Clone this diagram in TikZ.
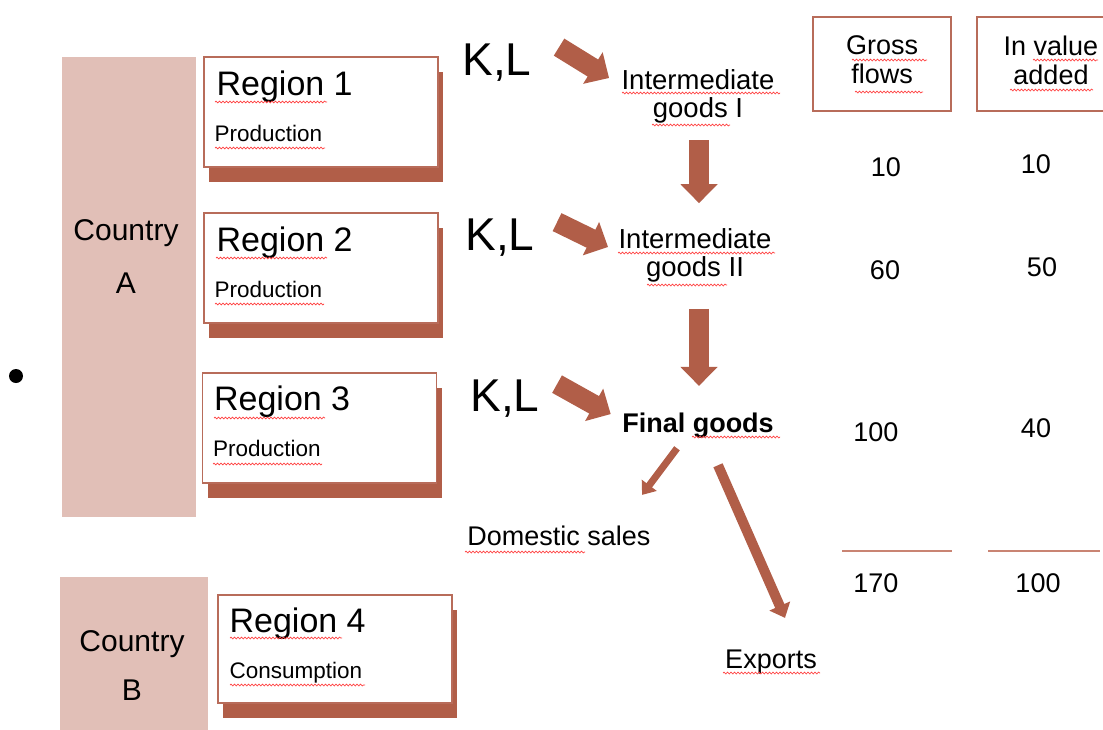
\documentclass[tikz,border=0pt]{standalone}
\usepackage{fontspec}
\setmainfont{Liberation Sans}
\usetikzlibrary{positioning,arrows.meta,shadows,decorations.pathmorphing}
\definecolor{rustbrown}{HTML}{B15E48}
\definecolor{boxedge}{HTML}{B86C5A}
\definecolor{countrypink}{HTML}{E1BFB7}
\definecolor{rulered}{HTML}{C98473}

\begin{document}
\begin{tikzpicture}[x=1pt, y=-1pt,
    country/.style={rectangle, fill=countrypink, minimum width=134pt, minimum height=460pt},
    countrytext/.style={align=center, font=\fontsize{30}{53}\selectfont},
    region/.style={rectangle, draw=boxedge, line width=1.2pt, fill=white,
                   minimum width=234pt, minimum height=110pt,
                   drop shadow={shadow xshift=5pt, shadow yshift=-15pt, fill=rustbrown, opacity=1}},
    regname/.style={anchor=base west, inner sep=0pt, font=\fontsize{34}{40}\selectfont},
    regrole/.style={anchor=base west, inner sep=0pt, font=\fontsize{22.5}{26}\selectfont},
    factors/.style={anchor=base, font=\fontsize{46}{50}\selectfont},
    goods/.style={align=center, font=\fontsize{27.5}{28}\selectfont},
    outlet/.style={anchor=base, font=\fontsize{27}{30}\selectfont},
    header/.style={rectangle, draw=boxedge, line width=1.5pt, minimum width=138pt,
                   minimum height=94pt, text depth=8pt, align=center,
                   font=\fontsize{27}{29}\selectfont},
    amount/.style={anchor=base, font=\fontsize{27}{30}\selectfont},
    fat/.style={draw=rustbrown, line width=20pt, -{Triangle[width=36pt,length=19pt]}},
    outflow/.style={draw=rustbrown, line width=7pt, -{Triangle[width=18pt,length=12pt]}},
    spell/.style={draw=red!75, line width=0.7pt, decorate,
                  decoration={snake, amplitude=0.9pt, segment length=3.5pt}}
  ]
    \useasboundingbox (0,0) rectangle (1103,729);

    % Countries
    \node[country] (ca) at (129,287) {};
    \node[countrytext] (catext) at (126,256.5) {Country\\A};
    \node[country, minimum width=148pt, minimum height=160pt] (cb) at (134,657) {};
    \node[countrytext, font=\fontsize{30}{49}\selectfont] (cbtext) at (132,665.5) {Country\\B};
    \node[circle, fill=black, inner sep=0pt, minimum size=14pt] (dot) at (16,376) {};

    % Regions
    \node[region] (r1) at (321,112) {};
    \node[regname] at ([shift={(13,39)}]r1.north west) {Region 1};
    \node[regrole] at ([shift={(11,85)}]r1.north west) {Production};

    \node[region] (r2) at (321,268) {};
    \node[regname] at ([shift={(13,39)}]r2.north west) {Region 2};
    \node[regrole] at ([shift={(11,85)}]r2.north west) {Production};

    \node[region] (r3) at (319.5,428) {};
    \node[regname] at ([shift={(12,38)}]r3.north west) {Region 3};
    \node[regrole] at ([shift={(11,84)}]r3.north west) {Production};

    \node[region, minimum height=108pt] (r4) at (335,649) {};
    \node[regname] at ([shift={(12,38)}]r4.north west) {Region 4};
    \node[regrole] at ([shift={(12,84)}]r4.north west) {Consumption};

    % Production chain
    \node[factors] (kl1) at (497,75) {K,L};
    \node[factors] (kl2) at (500,250) {K,L};
    \node[factors] (kl3) at (505,411) {K,L};

    \node[goods] (ig1) at (698,96) {Intermediate\\goods I};
    \node[goods] (ig2) at (695,255) {Intermediate\\goods II};
    \node[goods, anchor=base, font=\fontsize{27}{28}\selectfont\bfseries] (fg) at (698,432) {Final goods};

    \node[outlet] (dom) at (559,545) {Domestic sales};
    \node[outlet] (exp) at (771,668) {Exports};

    % Arrows
    \draw[fat] ([shift={(24,-15)}]kl1.east) -- ([shift={(-9,-18)}]ig1.west);
    \draw[fat] ([shift={(19,-15)}]kl2.east) -- ([shift={(-7,-8)}]ig2.west);
    \draw[fat] ([shift={(14,-14)}]kl3.east) -- ([shift={(-8,-11)}]fg.west);
    \draw[fat] ([shift={(1,14)}]ig1.south) -- ([shift={(4,-21.5)}]ig2.north);
    \draw[fat] ([shift={(4,23.5)}]ig2.south) -- ([shift={(1,-23)}]fg.north);
    \draw[outflow] ([shift={(-21,7)}]fg.south) -- ([shift={(-12,-27)}]dom.north east);
    \draw[outflow, line width=10pt, -{Triangle[width=22pt,length=13pt]}]
      ([shift={(20,24)}]fg.south) -- ([shift={(14,-28)}]exp.north);

    % Table
    \node[header] (gross) at (882,64) {Gross\\flows};
    \node[header, minimum width=148pt] (vadd) at (1051,64) {In value\\added};

    \node[amount] (g1) at (885.8,176.4) {10};
    \node[amount] (g2) at (885,279.7) {60};
    \node[amount] (g3) at (875.8,441.4) {100};
    \node[amount] (gsum) at (875.8,592.7) {170};
    \node[amount] (v1) at (1035.8,173.7) {10};
    \node[amount] (v2) at (1042,276.4) {50};
    \node[amount] (v3) at (1036,437.7) {40};
    \node[amount] (vsum) at (1038,592.7) {100};

    \draw[rulered, line width=1.5pt] (842,551) -- (952,551);
    \draw[rulered, line width=1.5pt] (988,551) -- (1100,551);

    % Spelling marks
    \draw[spell] (215,102) -- (327,102);
    \draw[spell] (215,148) -- (325,148);
    \draw[spell] (216,258) -- (327,258);
    \draw[spell] (215,304) -- (324,304);
    \draw[spell] (214,418) -- (325,418);
    \draw[spell] (213,464) -- (322,464);
    \draw[spell] (230,638) -- (342,638);
    \draw[spell] (230,685) -- (365,685);
    \draw[spell] (622,93) -- (780,93);
    \draw[spell] (652,125) -- (730,125);
    \draw[spell] (618,253) -- (775,253);
    \draw[spell] (647,285) -- (727,285);
    \draw[spell] (692,437) -- (780,437);
    \draw[spell] (465,552) -- (585,552);
    \draw[spell] (723,673) -- (820,673);
    \draw[spell] (852,60) -- (927,60);
    \draw[spell] (855,92) -- (923,92);
    \draw[spell] (1033,60) -- (1098,60);
    \draw[spell] (1010,90) -- (1093,90);
\end{tikzpicture}
\end{document}
